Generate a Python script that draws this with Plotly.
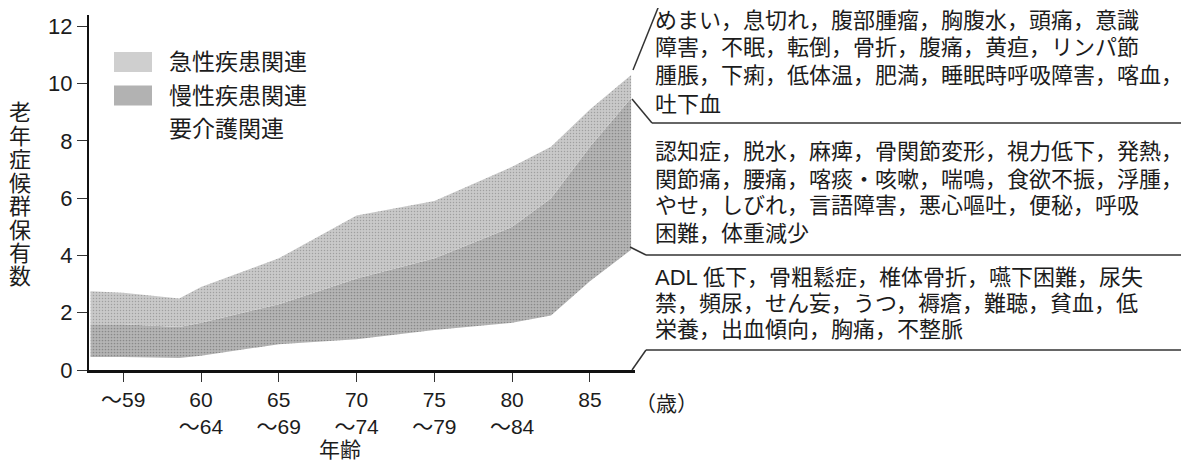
import plotly.graph_objects as go

# --- data (stacked band thickness per age position) ---
AGE_TICKS = [0, 1, 2, 3, 4, 5, 6]
AGE_LABELS = ["～59", "60<br>～64", "65<br>～69", "70<br>～74", "75<br>～79", "80<br>～84", "85"]
AGE_X = [-0.42, 0, 0.72, 1, 2, 3, 4, 5, 5.5, 6, 6.53]
CARE = [0.45, 0.45, 0.42, 0.5, 0.9, 1.07, 1.4, 1.65, 1.9, 3.1, 4.2]        # 要介護関連
CHRONIC = [1.15, 1.15, 1.08, 1.15, 1.4, 2.13, 2.5, 3.35, 4.1, 4.7, 5.3]   # 慢性疾患関連
ACUTE = [1.15, 1.1, 1.0, 1.25, 1.6, 2.2, 2.0, 2.1, 1.8, 1.3, 0.8]         # 急性疾患関連

Y_TICKS = [0, 2, 4, 6, 8, 10, 12]
Y_TITLE = "老年症候群保有数"
LEGEND_NAMES = ["急性疾患関連", "慢性疾患関連", "要介護関連"]

BOX_ACUTE = [
    "めまい，息切れ，腹部腫瘤，胸腹水，頭痛，意識",
    "障害，不眠，転倒，骨折，腹痛，黄疸，リンパ節",
    "腫脹，下痢，低体温，肥満，睡眠時呼吸障害，喀血，",
    "吐下血",
]
BOX_CHRONIC = [
    "認知症，脱水，麻痺，骨関節変形，視力低下，発熱，",
    "関節痛，腰痛，喀痰・咳嗽，喘鳴，食欲不振，浮腫，",
    "やせ，しびれ，言語障害，悪心嘔吐，便秘，呼吸",
    "困難，体重減少",
]
BOX_CARE = [
    "ADL 低下，骨粗鬆症，椎体骨折，嚥下困難，尿失",
    "禁，頻尿，せん妄，うつ，褥瘡，難聴，貧血，低",
    "栄養，出血傾向，胸痛，不整脈",
]

# --- page geometry (page pixels; the html body adds an 8px margin) ---
OFF = 8
W, H = 1189, 472
X0, X1, Y0, Y1 = 89, 635, 15, 370          # plot area on the page
PW, PH = X1 - X0, Y1 - Y0
FONT = "Liberation Sans, Arial, Noto Sans CJK JP"
INK = "#1c1c1c"
ACUTE_C, CHRONIC_C = "#c9c9c9", "#b5b5b5"


def px(x):
    return (x - X0) / PW


def py(y):
    return (Y1 - y) / PH


def label(x, y, text, size, anchor="center"):
    return dict(x=px(x), y=py(y), xref="paper", yref="paper", text=text,
                showarrow=False, xanchor=anchor, yanchor="middle",
                font=dict(size=size, color=INK))


fig = go.Figure()
fig.add_trace(go.Scatter(x=AGE_X, y=CARE, stackgroup="s", mode="none",
                         fillcolor="rgba(255,255,255,0)", name=LEGEND_NAMES[2]))
fig.add_trace(go.Scatter(x=AGE_X, y=CHRONIC, stackgroup="s", mode="none",
                         fillcolor=CHRONIC_C, name=LEGEND_NAMES[1],
                         fillpattern=dict(shape=".", fgcolor="#5e5e5e", bgcolor=CHRONIC_C,
                                          size=3, solidity=0.25)))
fig.add_trace(go.Scatter(x=AGE_X, y=ACUTE, stackgroup="s", mode="none",
                         fillcolor=ACUTE_C, name=LEGEND_NAMES[0],
                         fillpattern=dict(shape=".", fgcolor="#767676", bgcolor=ACUTE_C,
                                          size=3, solidity=0.2)))

ann = []
shapes = []

# y title, stacked upright
for i, ch in enumerate(Y_TITLE):
    ann.append(label(20, 113 + 23.4 * i, ch, 22))

# legend (drawn by hand like the original)
for i, (name, col) in enumerate(zip(LEGEND_NAMES, ["#cfcfcf", "#b2b2b2", None])):
    yc = 62 + 33.5 * i
    if col:
        shapes.append(dict(type="rect", xref="paper", yref="paper",
                           x0=px(114), x1=px(152), y0=py(yc - 10), y1=py(yc + 10),
                           fillcolor=col, line=dict(width=0)))
    ann.append(label(167, yc, name, 23, "left"))

# text boxes on the right
for lines, ys in [(BOX_ACUTE, [21, 47, 75, 104]),
                  (BOX_CHRONIC, [151, 179, 206, 233]),
                  (BOX_CARE, [277, 303, 329])]:
    for s, yc in zip(lines, ys):
        ann.append(label(653, yc, s, 22, "left"))

# bracket lines
segs = [((660, 3), (1189, 3)), ((660, 3), (633, 70)),
        ((632, 99), (652, 123)), ((652, 123), (1189, 123)),
        ((630, 247), (646, 255)), ((646, 255), (1189, 255)),
        ((646, 350), (1189, 350)), ((646, 350), (632, 370))]
for (xa, ya), (xb, yb) in segs:
    shapes.append(dict(type="line", xref="paper", yref="paper",
                       x0=px(xa), y0=py(ya), x1=px(xb), y1=py(yb),
                       line=dict(color="#333", width=1.5)))

ann.append(label(340, 449, "年齢", 21))
ann.append(label(666, 403, "（歳）", 21))

fig.update_layout(
    width=W - OFF, height=H - OFF, autosize=False,
    margin=dict(l=X0 - OFF, r=W - X1, t=Y0 - OFF, b=H - Y1, autoexpand=False),
    paper_bgcolor="white", plot_bgcolor="white",
    font=dict(family=FONT, color=INK),
    showlegend=False,
    annotations=ann, shapes=shapes,
)
fig.update_xaxes(range=[-0.44, 6.58], tickvals=AGE_TICKS, ticktext=AGE_LABELS,
                 showline=True, linecolor="#111", linewidth=2.5, mirror=False,
                 ticks="outside", ticklen=9, tickwidth=1.2, tickcolor="#333",
                 showgrid=False, zeroline=False, tickfont=dict(size=21))
fig.update_yaxes(range=[0, 12.4], tickvals=Y_TICKS,
                 showline=True, linecolor="#111", linewidth=2, mirror=False,
                 ticks="outside", ticklen=10, tickwidth=1.2, tickcolor="#333",
                 showgrid=False, zeroline=False, tickfont=dict(size=22))

fig.write_html("out.html")
